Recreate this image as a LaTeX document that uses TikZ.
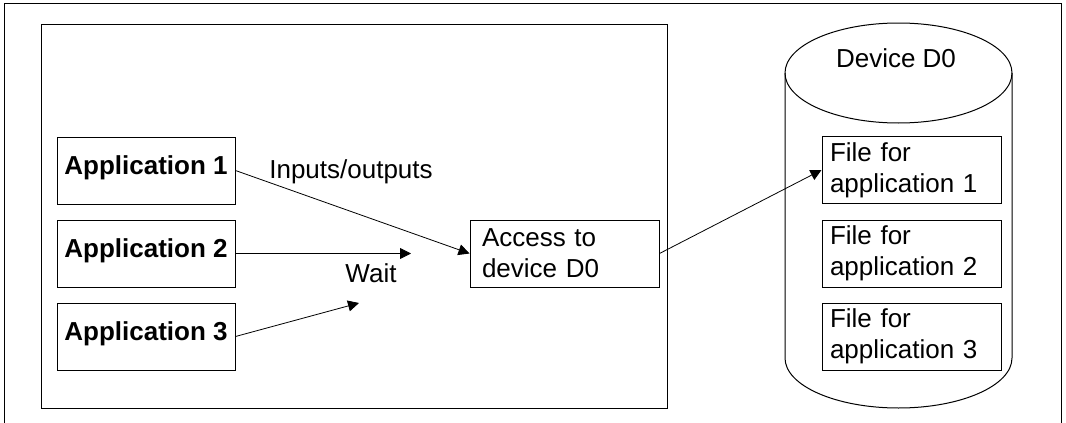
\documentclass[tikz,border=0pt]{standalone}
\usepackage{fontspec}
\setmainfont{Liberation Sans}
\usepackage{tikz}
\usetikzlibrary{arrows.meta}
\begin{document}
\begin{tikzpicture}[x=1pt,y=-1pt]
\tikzstyle{every node}+=[font=\fontsize{26}{31}\selectfont]
\tikzstyle{appbox}=[draw=black, line width=1pt, minimum width=178pt, minimum height=67pt, text height=19pt, text depth=11pt, font=\fontsize{26}{31}\selectfont\bfseries]
\tikzstyle{filebox}=[draw=black, line width=1pt, minimum width=179pt, minimum height=67pt, inner xsep=8pt, text width=163pt, align=left]
\tikzstyle{flow}=[black, line width=0.8pt, -{Triangle[length=11pt,width=11pt]}]
\useasboundingbox (0,0) rectangle (1066,423);
\draw [black, line width=1pt] (4,423) -- (4,3) -- (1061,3) -- (1061,423);
\draw [black, line width=1pt] (41,24) rectangle (667,408);
\node [appbox] (app1) at (146,170.5) {Application 1};
\node [appbox] (app2) at (146,253.5) {Application 2};
\node [appbox] (app3) at (146,336.5) {Application 3};
\node [draw=black, line width=1pt, minimum width=189pt, minimum height=67pt, inner xsep=12pt, text width=165pt, align=left] (acc) at (564.5,253.5) {Access to\\device D0};
\draw [black, line width=1pt] (785,73) -- (785,358) arc [start angle=180, end angle=360, x radius=113.5pt, y radius=50pt] -- (1012,73);
\draw [black, line width=1pt] (898.5,73) ellipse [x radius=113.5pt, y radius=50pt];
\node [anchor=base] (dev) at (896,67) {Device D0};
\node [filebox] (file1) at (911.5,170) {File for\\application 1};
\node [filebox] (file2) at (911.5,253.5) {File for\\application 2};
\node [filebox] (file3) at (911.5,336.5) {File for\\application 3};
\coordinate (wait2) at (411,253.5);
\coordinate (wait3) at (359,303);
\draw [flow] (app1.east) -- (acc.west);
\draw [flow] (app2.east) -- (wait2);
\draw [flow] (app3.east) -- (wait3);
\draw [flow] (acc.east) -- (file1.west);
\node [anchor=base] (io) at (351,178) {Inputs/outputs};
\node [anchor=base] (wait) at (371,282) {Wait};
\end{tikzpicture}
\end{document}
